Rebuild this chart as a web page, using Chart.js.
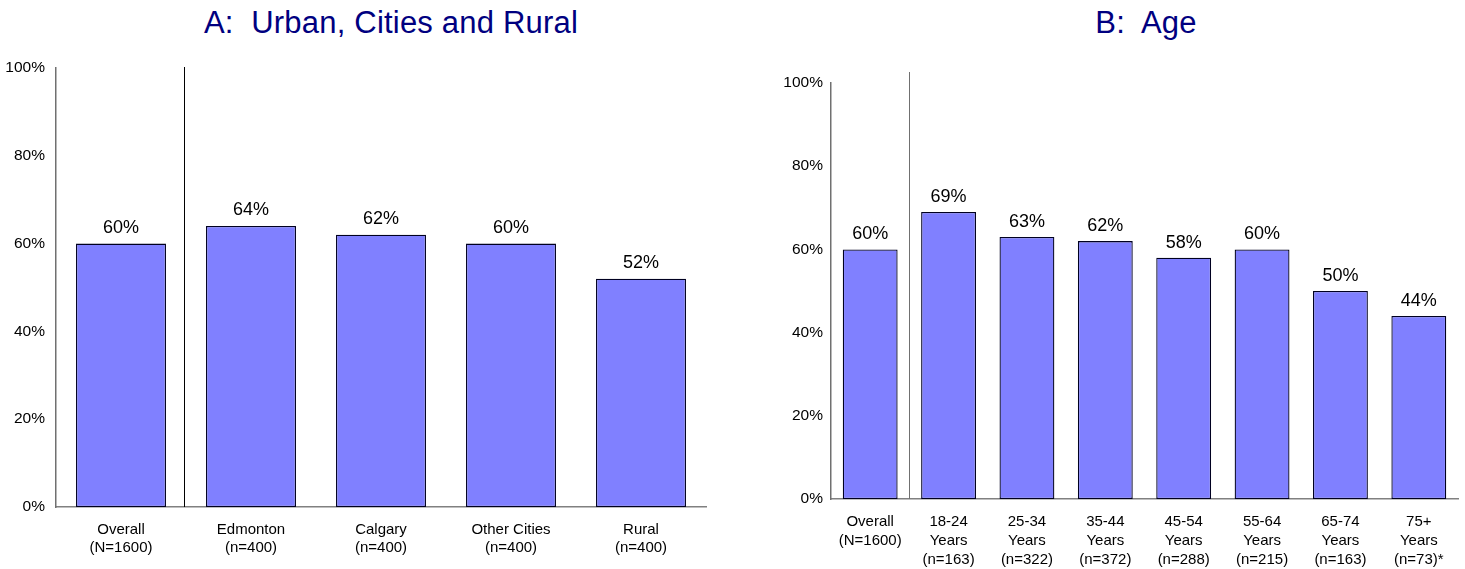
<!DOCTYPE html>
<html>
<head>
<meta charset="utf-8">
<script src="https://cdn.jsdelivr.net/npm/chart.js@4.4.0/dist/chart.umd.min.js"></script>
<style>
  html, body { margin: 0; padding: 0; background: #fff; }
  body { width: 1465px; height: 569px; position: relative; overflow: hidden; font-family: "Liberation Sans", Arial, sans-serif; }
  .title { position: absolute; top: 5px; font-size: 31px; line-height: 36px; color: #000080; white-space: pre; transform: translateX(-50%); letter-spacing: 0.2px; }
  .wrap { position: absolute; top: 0; height: 569px; }
</style>
</head>
<body>
<div class="title" style="left:391px;">A:  Urban, Cities and Rural</div>
<div class="title" style="left:1146px;">B:  Age</div>
<div class="wrap" style="left:0px; width:730px;"><canvas id="cA"></canvas></div>
<div class="wrap" style="left:760px; width:705px;"><canvas id="cB"></canvas></div>
<script>
// ---- Data ----
const regionLabels = [
  ["Overall", "(N=1600)"],
  ["Edmonton", "(n=400)"],
  ["Calgary", "(n=400)"],
  ["Other Cities", "(n=400)"],
  ["Rural", "(n=400)"]
];
const regionValues = [60, 64, 62, 60, 52];

const ageLabels = [
  ["Overall", "(N=1600)"],
  ["18-24", "Years", "(n=163)"],
  ["25-34", "Years", "(n=322)"],
  ["35-44", "Years", "(n=372)"],
  ["45-54", "Years", "(n=288)"],
  ["55-64", "Years", "(n=215)"],
  ["65-74", "Years", "(n=163)"],
  ["75+", "Years", "(n=73)*"]
];
const ageValues = [60, 69, 63, 62, 58, 60, 50, 44];

const yTicks = [0, 20, 40, 60, 80, 100];

// ---- Plugins ----
const valueLabels = {
  id: 'valueLabels',
  afterDatasetsDraw(chart, args, opts) {
    const ctx = chart.ctx;
    const meta = chart.getDatasetMeta(0);
    ctx.save();
    ctx.font = '18px "Liberation Sans", Arial, sans-serif';
    ctx.fillStyle = '#000';
    ctx.textAlign = 'center';
    ctx.textBaseline = 'middle';
    meta.data.forEach((bar, i) => {
      const v = chart.data.datasets[0].data[i];
      ctx.fillText(v + '%', bar.x, bar.y - opts.gap);
    });
    ctx.restore();
  }
};
const separator = {
  id: 'separator',
  afterDatasetsDraw(chart, args, opts) {
    const x = chart.scales.x;
    const a = chart.chartArea;
    const px = Math.round((x.getPixelForValue(0) + x.getPixelForValue(1)) / 2 + opts.offset) + 0.5;
    const ctx = chart.ctx;
    ctx.save();
    ctx.strokeStyle = opts.color;
    ctx.lineWidth = 1;
    ctx.beginPath();
    ctx.moveTo(px, a.top - opts.extendTop);
    ctx.lineTo(px, a.bottom);
    ctx.stroke();
    ctx.restore();
  }
};

function makeChart(id, labels, values, cfg) {
  return new Chart(document.getElementById(id), {
    type: 'bar',
    data: {
      labels: labels,
      datasets: [{
        data: values,
        backgroundColor: '#8080FF',
        borderColor: '#000020',
        borderWidth: 1.3,
        borderSkipped: false,
        barPercentage: 1,
        categoryPercentage: cfg.barPct
      }]
    },
    options: {
      responsive: true,
      maintainAspectRatio: false,
      animation: false,
      layout: { padding: { top: cfg.top, right: cfg.right, left: 0, bottom: 0 } },
      plugins: {
        legend: { display: false },
        title: { display: false },
        tooltip: { enabled: false },
        valueLabels: { gap: cfg.gap },
        separator: { offset: cfg.sepOffset, extendTop: cfg.sepTop, color: cfg.sepColor }
      },
      scales: {
        x: {
          grid: { display: false, drawTicks: false },
          border: { display: true, color: '#808080', width: 1.5 },
          ticks: {
            color: '#000',
            font: { family: '"Liberation Sans", Arial, sans-serif', size: 15, lineHeight: cfg.xLH },
            padding: cfg.xPad,
            maxRotation: 0,
            autoSkip: false
          },
          afterFit(s) { s.height = cfg.xHeight; }
        },
        y: {
          min: 0, max: 100,
          afterBuildTicks(s) { s.ticks = yTicks.map(v => ({ value: v })); },
          grid: { display: false, drawTicks: false },
          border: { display: true, color: '#707070', width: 1.5 },
          ticks: {
            color: '#000',
            font: { family: '"Liberation Sans", Arial, sans-serif', size: 15.5 },
            padding: cfg.yPad,
            callback: v => v + '%'
          },
          afterFit(s) { s.width = cfg.yWidth; }
        }
      }
    },
    plugins: [valueLabels, separator]
  });
}

makeChart('cA', regionLabels, regionValues, {
  top: 68, right: 24, yWidth: 56, xHeight: 62, xPad: 14, xLH: 1.2, yPad: 11,
  barPct: 0.692, gap: 16, sepOffset: -2, sepTop: 1, sepColor: '#000'
});
makeChart('cB', ageLabels, ageValues, {
  top: 83, right: 7, yWidth: 71, xHeight: 70, xPad: 13, xLH: 1.27, yPad: 8,
  barPct: 0.70, gap: 15, sepOffset: 0, sepTop: 11, sepColor: '#707070'
});
</script>
</body>
</html>
